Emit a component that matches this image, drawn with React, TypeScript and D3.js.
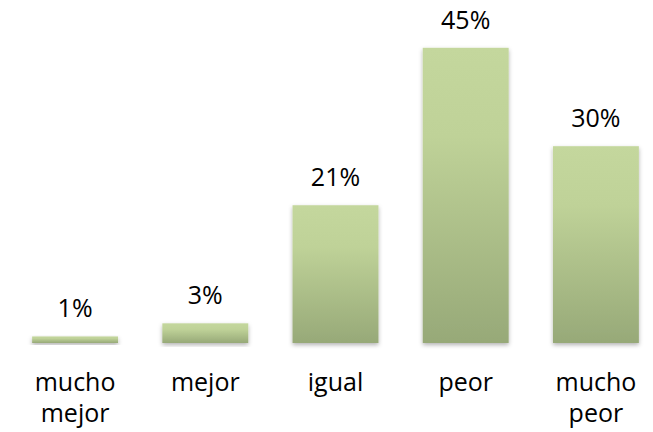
import React, { useEffect, useRef } from 'react'
import * as d3 from 'd3'

const categories = ['mucho mejor', 'mejor', 'igual', 'peor', 'mucho peor']
const values = [1, 3, 21, 45, 30]
const yDomainMax = 50

const WIDTH = 653
const HEIGHT = 432

function BarChart() {
    const ref = useRef<SVGSVGElement | null>(null)

    useEffect(() => {
        const svg = d3.select(ref.current)
        svg.selectAll('*').remove()

        const baseline = 343
        const font = '"Open Sans", Lato, sans-serif'
        const fontSize = 25

        const defs = svg.append('defs')

        const grad = defs.append('linearGradient')
            .attr('id', 'barFill')
            .attr('x1', 0).attr('y1', 0)
            .attr('x2', 0).attr('y2', 1)
        grad.append('stop').attr('offset', '0%').attr('stop-color', '#c4d79d')
        grad.append('stop').attr('offset', '30%').attr('stop-color', '#bfd298')
        grad.append('stop').attr('offset', '100%').attr('stop-color', '#97a978')

        const shadow = defs.append('filter')
            .attr('id', 'shadow')
            .attr('x', '-20%').attr('y', '-20%')
            .attr('width', '140%').attr('height', '140%')
        shadow.append('feDropShadow')
            .attr('dx', 0).attr('dy', 2)
            .attr('stdDeviation', 2)
            .attr('flood-color', '#000')
            .attr('flood-opacity', 0.3)

        // plot area runs a little past the right edge, like the source
        const x = d3.scaleBand<string>()
            .domain(categories)
            .range([10, 661])
            .paddingInner(0.34)
            .paddingOuter(0.17)

        const y = d3.scaleLinear()
            .domain([0, yDomainMax])
            .range([baseline, 15])

        const data = categories.map((c, i) => ({ cat: c, val: values[i] }))

        svg.append('g')
            .selectAll('rect')
            .data(data)
            .join('rect')
            .attr('x', d => x(d.cat)!)
            .attr('y', d => y(d.val))
            .attr('width', x.bandwidth())
            .attr('height', d => y(0) - y(d.val))
            .attr('fill', 'url(#barFill)')
            .attr('filter', 'url(#shadow)')

        // axis line
        svg.append('line')
            .attr('x1', x.range()[0])
            .attr('x2', WIDTH)
            .attr('y1', baseline + 0.75)
            .attr('y2', baseline + 0.75)
            .attr('stroke', '#8a8a8a')
            .attr('stroke-width', 1.5)
            .attr('filter', 'url(#shadow)')

        // value labels
        svg.append('g')
            .selectAll('text')
            .data(data)
            .join('text')
            .attr('x', d => x(d.cat)! + x.bandwidth() / 2)
            .attr('y', d => y(d.val) - 19)
            .attr('text-anchor', 'middle')
            .attr('font-family', font)
            .attr('font-size', fontSize)
            .attr('fill', '#000')
            .text(d => `${d.val}%`)

        // category labels, one word per line
        const cats = svg.append('g')
            .selectAll('text')
            .data(data)
            .join('text')
            .attr('text-anchor', 'middle')
            .attr('font-family', font)
            .attr('font-size', fontSize)
            .attr('fill', '#000')

        cats.selectAll('tspan')
            .data(d => d.cat.split(' ').map(w => ({ w, cx: x(d.cat)! + x.bandwidth() / 2 })))
            .join('tspan')
            .attr('x', d => d.cx)
            .attr('y', (d, i) => 391 + i * 31)
            .text(d => d.w)
    }, [])

    return (
        <svg
            ref={ref}
            width={WIDTH}
            height={HEIGHT}
            style={{ position: 'absolute', left: 0, top: 0, background: '#fff' }}
        />
    )
}

export default function App() {
    return <BarChart />
}
